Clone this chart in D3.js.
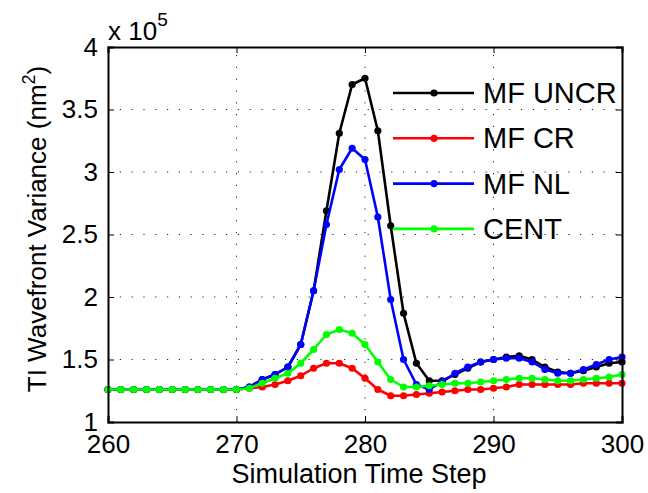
<!DOCTYPE html>
<html>
<head>
<meta charset="utf-8">
<script src="https://cdn.jsdelivr.net/npm/d3@7"></script>
<style>
  html, body { margin: 0; padding: 0; background: #fff; }
  svg { display: block; font-family: "Liberation Sans", Arial, Helvetica, sans-serif; }
</style>
</head>
<body>
<svg id="chart" width="648" height="493"></svg>
<script>
// ---- data (values in units of 1e5 nm^2) ----
const steps = d3.range(260, 301);
const mfUncr = [1.26,1.26,1.26,1.26,1.26,1.26,1.26,1.26,1.26,1.26,1.26,
  1.28,1.34,1.38,1.44,1.62,2.05,2.69,3.31,3.70,3.75,3.33,2.57,1.87,1.47,1.33,1.33,
  1.38,1.43,1.48,1.50,1.52,1.53,1.50,1.44,1.40,1.39,1.41,1.44,1.47,1.48];
const mfCr = [1.26,1.26,1.26,1.26,1.26,1.26,1.26,1.26,1.26,1.26,1.26,
  1.27,1.28,1.30,1.33,1.37,1.43,1.47,1.47,1.43,1.35,1.26,1.21,1.21,1.22,1.23,1.24,
  1.25,1.26,1.26,1.27,1.28,1.30,1.30,1.30,1.30,1.30,1.31,1.31,1.31,1.31];
const mfNl = [1.26,1.26,1.26,1.26,1.26,1.26,1.26,1.26,1.26,1.26,1.26,
  1.28,1.34,1.38,1.44,1.62,2.05,2.58,3.02,3.19,3.10,2.64,1.98,1.50,1.30,1.26,1.32,
  1.39,1.44,1.48,1.50,1.51,1.51,1.48,1.42,1.39,1.39,1.42,1.46,1.50,1.52];
const cent = [1.26,1.26,1.26,1.26,1.26,1.26,1.26,1.26,1.26,1.26,1.26,
  1.27,1.31,1.35,1.39,1.47,1.58,1.70,1.74,1.71,1.62,1.48,1.34,1.28,1.28,1.29,1.30,
  1.31,1.31,1.32,1.33,1.34,1.35,1.35,1.34,1.33,1.33,1.34,1.35,1.36,1.38];
const seriesNames = ["MF UNCR", "MF CR", "MF NL", "CENT"];
const seriesColors = ["#000000", "#ff0000", "#0000ff", "#00ff00"];
const xTicks = [260, 270, 280, 290, 300];
const yTicks = [1, 1.5, 2, 2.5, 3, 3.5, 4];
const xLabel = "Simulation Time Step";
const yLabel = "TI Wavefront Variance (nm";
const exponentLabel = "5";

// ---- layout ----
const svg = d3.select("#chart");
const L = 108, R = 622, T = 47, B = 422;
const x = d3.scaleLinear().domain([260, 300]).range([L, R]);
const y = d3.scaleLinear().domain([1, 4]).range([B, T]);
const FS = 26;

// grid
const grid = svg.append("g");
grid.selectAll("line.gx").data(xTicks.slice(1, -1)).join("line")
  .attr("x1", d => x(d)).attr("x2", d => x(d)).attr("y1", B).attr("y2", T)
  .attr("stroke", "#222").attr("stroke-width", 1).attr("stroke-dasharray", "1.2,10.6");
grid.selectAll("line.gy").data(yTicks.slice(1, -1)).join("line")
  .attr("y1", d => y(d)).attr("y2", d => y(d)).attr("x1", L).attr("x2", R)
  .attr("stroke", "#222").attr("stroke-width", 1).attr("stroke-dasharray", "1.2,10.6");

// series
const allSeries = [mfUncr, mfCr, mfNl, cent];
const line = d3.line().x((d, i) => x(steps[i])).y(d => y(d));
allSeries.forEach((vals, k) => {
  const g = svg.append("g");
  g.append("path").datum(vals).attr("d", line)
    .attr("fill", "none").attr("stroke", seriesColors[k]).attr("stroke-width", 2.6)
    .attr("stroke-linejoin", "round");
  g.selectAll("circle").data(vals).join("circle")
    .attr("cx", (d, i) => x(steps[i])).attr("cy", d => y(d)).attr("r", 3.6)
    .attr("fill", seriesColors[k]);
});

// axes (ticks inward, box)
const axG = svg.append("g");
const xAxisB = d3.axisBottom(x).tickValues(xTicks).tickSize(-6).tickPadding(13).tickFormat(d3.format("d"));
const xAxisT = d3.axisTop(x).tickValues(xTicks).tickSize(-6).tickFormat("");
const yAxisL = d3.axisLeft(y).tickValues(yTicks).tickSize(-6).tickPadding(10).tickFormat(d => String(d));
const yAxisR = d3.axisRight(y).tickValues(yTicks).tickSize(-6).tickFormat("");
[[xAxisB, `translate(0,${B})`], [xAxisT, `translate(0,${T})`],
 [yAxisL, `translate(${L},0)`], [yAxisR, `translate(${R},0)`]].forEach(([ax, tr]) => {
  const g = axG.append("g").attr("transform", tr).call(ax);
  g.select(".domain").attr("stroke", "#000").attr("stroke-width", 2);
  g.selectAll(".tick line").attr("stroke", "#000").attr("stroke-width", 1);
  g.selectAll("text").attr("font-size", FS).attr("fill", "#000")
    .attr("font-family", "Liberation Sans, Arial, sans-serif");
});

// exponent label
const ex = svg.append("text").attr("x", L).attr("y", 40).attr("font-size", FS).attr("fill", "#000");
ex.append("tspan").text("x 10");
ex.append("tspan").attr("dy", -14).attr("font-size", 19).text(exponentLabel);

// axis labels
svg.append("text").attr("x", (L + R) / 2 - 6).attr("y", 483).attr("text-anchor", "middle")
  .attr("font-size", 27).attr("fill", "#000").text(xLabel);
const yl = svg.append("text").attr("transform", `translate(46,229) rotate(-90)`)
  .attr("text-anchor", "middle").attr("font-size", 26).attr("fill", "#000");
yl.append("tspan").text(yLabel);
yl.append("tspan").attr("dy", -11).attr("font-size", 18).text("2");
yl.append("tspan").attr("dy", 11).text(")");

// legend
const leg = svg.append("g");
seriesNames.forEach((name, k) => {
  const cy = 93 + k * 45.3;
  leg.append("line").attr("x1", 393).attr("x2", 474).attr("y1", cy).attr("y2", cy)
    .attr("stroke", seriesColors[k]).attr("stroke-width", 2.6);
  leg.append("circle").attr("cx", 434).attr("cy", cy).attr("r", 3.6).attr("fill", seriesColors[k]);
  leg.append("text").attr("x", 483).attr("y", cy + 10).attr("font-size", 29).attr("fill", "#000").text(name);
});
</script>
</body>
</html>
